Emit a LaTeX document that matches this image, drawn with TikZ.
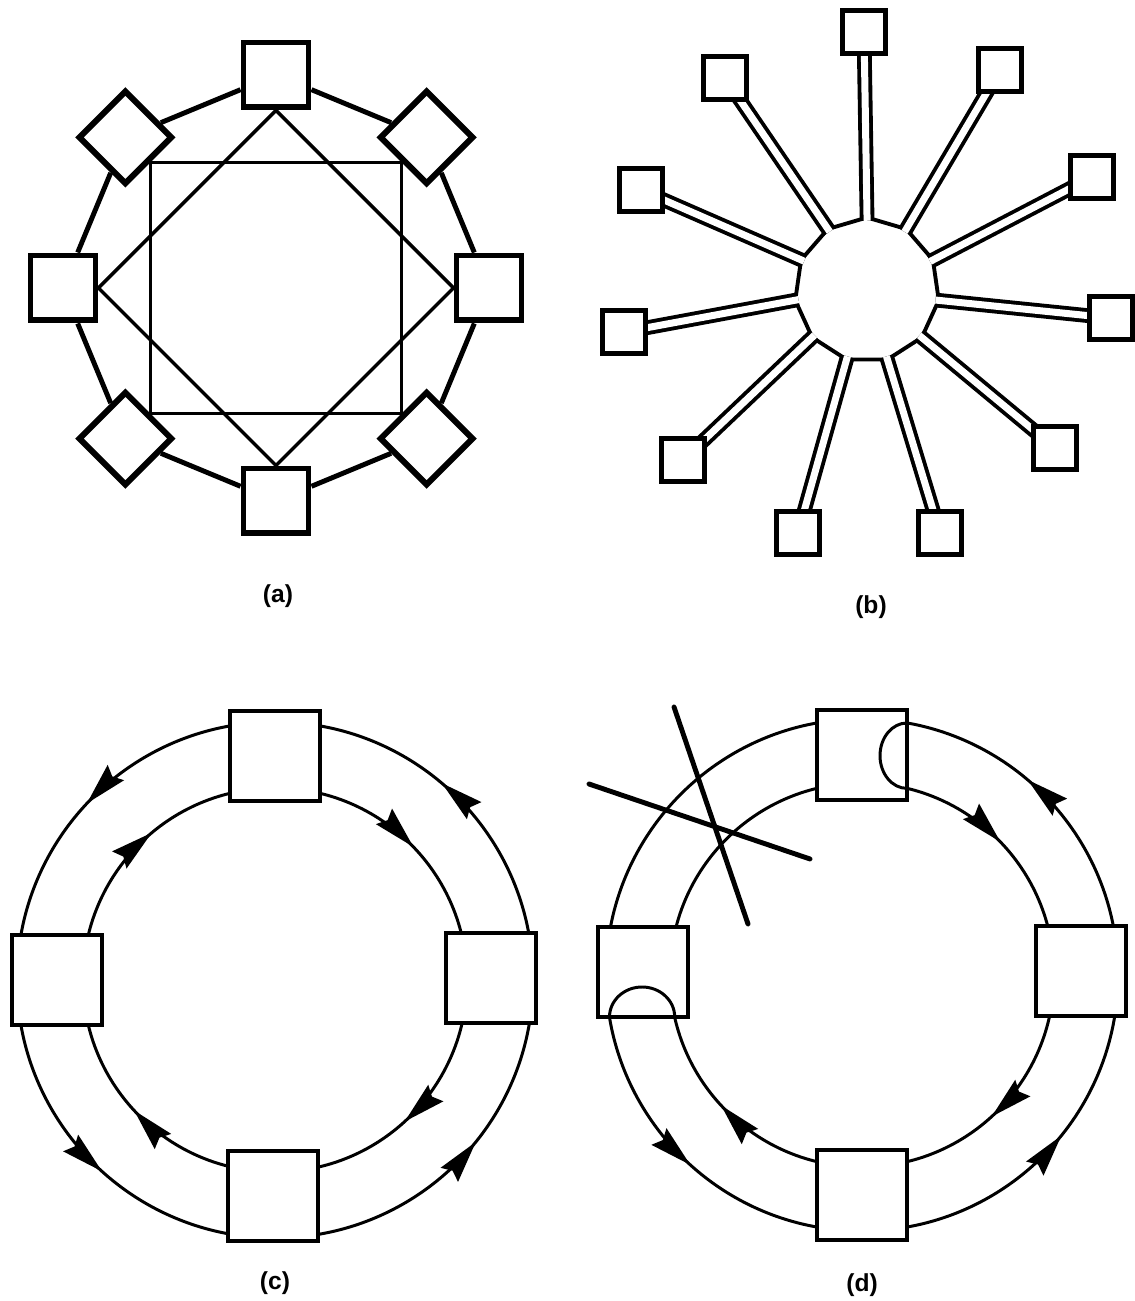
\documentclass[tikz,border=0pt]{standalone}
\usepackage{fontspec}
\setmainfont{Liberation Sans}
\usetikzlibrary{shapes.geometric, arrows.meta, backgrounds, decorations.markings}

\begin{document}
\begin{tikzpicture}[
        x=0.02cm, y=0.02cm,
        station/.style={rectangle, draw, line width=3.4pt, fill=white, inner sep=0pt, minimum size=1.3cm},
        ringline/.style={line width=2.8pt},
        meshline/.style={line width=2pt},
        hub/.style={regular polygon, regular polygon sides=11, draw, line width=2.2pt, inner sep=0pt, minimum size=2.9cm},
        leaf/.style={rectangle, draw, line width=2.8pt, fill=white, inner sep=0pt, minimum size=0.86cm},
        spoke/.style={double, double distance=0.14cm, line width=2.2pt, shorten <=-3pt, shorten >=-6pt},
        repeater/.style={rectangle, draw, line width=2.8pt, fill=white, inner sep=0pt, minimum size=1.8cm},
        loopline/.style={line width=1.7pt},
        cutline/.style={line width=2.8pt, line cap=round},
        fwd/.style={postaction={decorate, decoration={markings, mark=at position #1 with {\arrow{Stealth[length=0.84cm, width=0.44cm, inset=0.1cm]}}}}},
        bwd/.style={postaction={decorate, decoration={markings, mark=at position #1 with {\arrowreversed{Stealth[length=0.84cm, width=0.44cm, inset=0.1cm]}}}}},
        caption/.style={font=\fontsize{14}{16}\selectfont\bfseries}
    ]
    \useasboundingbox (0,0) rectangle (1135,1301);

    % (a) ring of eight stations with inner mesh
    \begin{scope}[shift={(276,1013)}]
        \node (a0) [station, rotate=0] at (0:213) {};
        \node (a45) [station, rotate=45] at (45:213) {};
        \node (a90) [station, rotate=90] at (90:213) {};
        \node (a135) [station, rotate=135] at (135:213) {};
        \node (a180) [station, rotate=180] at (180:213) {};
        \node (a225) [station, rotate=225] at (225:213) {};
        \node (a270) [station, rotate=270] at (270:213) {};
        \node (a315) [station, rotate=315] at (315:213) {};

        \draw [ringline] (a0) -- (a45) -- (a90) -- (a135) -- (a180) -- (a225) -- (a270) -- (a315) -- (a0);
        \draw [meshline] (a45.west) -- (a135.west) -- (a225.west) -- (a315.west) -- cycle;
        \draw [meshline] (a0.west) -- (a90.west) -- (a180.west) -- (a270.west) -- cycle;
    \end{scope}
    \node (capa) [caption] at (278,705) {(a)};

    % (b) star with eleven leaves
    \node (b1) [leaf] at (864,1269) {};
    \node (b2) [leaf] at (1000,1231) {};
    \node (b3) [leaf] at (1092,1124) {};
    \node (b4) [leaf] at (1111,983) {};
    \node (b5) [leaf] at (1055,853) {};
    \node (b6) [leaf] at (940,768) {};
    \node (b7) [leaf] at (798,768) {};
    \node (b8) [leaf] at (683,841) {};
    \node (b9) [leaf] at (624,969) {};
    \node (b10) [leaf] at (641,1111) {};
    \node (b11) [leaf] at (725,1223) {};
    \begin{scope}[on background layer]
        \node (hub) [hub] at (867,1011) {};
        \draw [spoke] (hub.corner 1) -- (b1);
        \draw [spoke] (hub.corner 2) -- (b11);
        \draw [spoke] (hub.corner 3) -- (b10);
        \draw [spoke] (hub.corner 4) -- (b9);
        \draw [spoke] (hub.corner 5) -- (b8);
        \draw [spoke] (hub.corner 6) -- (b7);
        \draw [spoke] (hub.corner 7) -- (b6);
        \draw [spoke] (hub.corner 8) -- (b5);
        \draw [spoke] (hub.corner 9) -- (b4);
        \draw [spoke] (hub.corner 10) -- (b3);
        \draw [spoke] (hub.corner 11) -- (b2);
    \end{scope}
    \node (capb) [caption] at (871,694) {(b)};

    % (c) dual counter-rotating ring
    \begin{scope}[shift={(275,321)}]
        \draw [loopline, fwd=0.138, fwd=0.38, fwd=0.633, fwd=0.892] (0,0) circle[radius=258];
        \draw [loopline, bwd=0.122, bwd=0.361, bwd=0.619, bwd=0.868] (0,0) circle[radius=192];
        \node (c1) [repeater] at (0,224) {};
        \node (c2) [repeater] at (-218,0) {};
        \node (c3) [repeater] at (216,2) {};
        \node (c4) [repeater] at (-2,-216) {};
    \end{scope}
    \node (capc) [caption] at (275,18) {(c)};

    % (d) ring wrapped after a cut
    \begin{scope}[shift={(862,326)}]
        \draw [loopline, fwd=0.138, fwd=0.633, fwd=0.892] (0,0) circle[radius=256];
        \draw [loopline, bwd=0.122, bwd=0.619, bwd=0.868] (0,0) circle[radius=192];
        \node (d1) [repeater] at (0,220) {};
        \node (d2) [repeater] at (-219,3) {};
        \node (d3) [repeater] at (219,4) {};
        \node (d4) [repeater] at (0,-220) {};
        % loopback inside the end stations
        \draw [loopline] (45,252) arc[start angle=90, end angle=270, x radius=27, y radius=32.7];
        \draw [loopline] (-252.5,-42) arc[start angle=180, end angle=0, x radius=32.6, y radius=30];
        % break in the ring
        \coordinate (cutA1) at (-188,268);
        \coordinate (cutA2) at (-114,51);
        \coordinate (cutB1) at (-273,191);
        \coordinate (cutB2) at (-52,116);
        \draw [cutline] (cutA1) -- (cutA2);
        \draw [cutline] (cutB1) -- (cutB2);
    \end{scope}
    \node (capd) [caption] at (862,16) {(d)};

\end{tikzpicture}
\end{document}
